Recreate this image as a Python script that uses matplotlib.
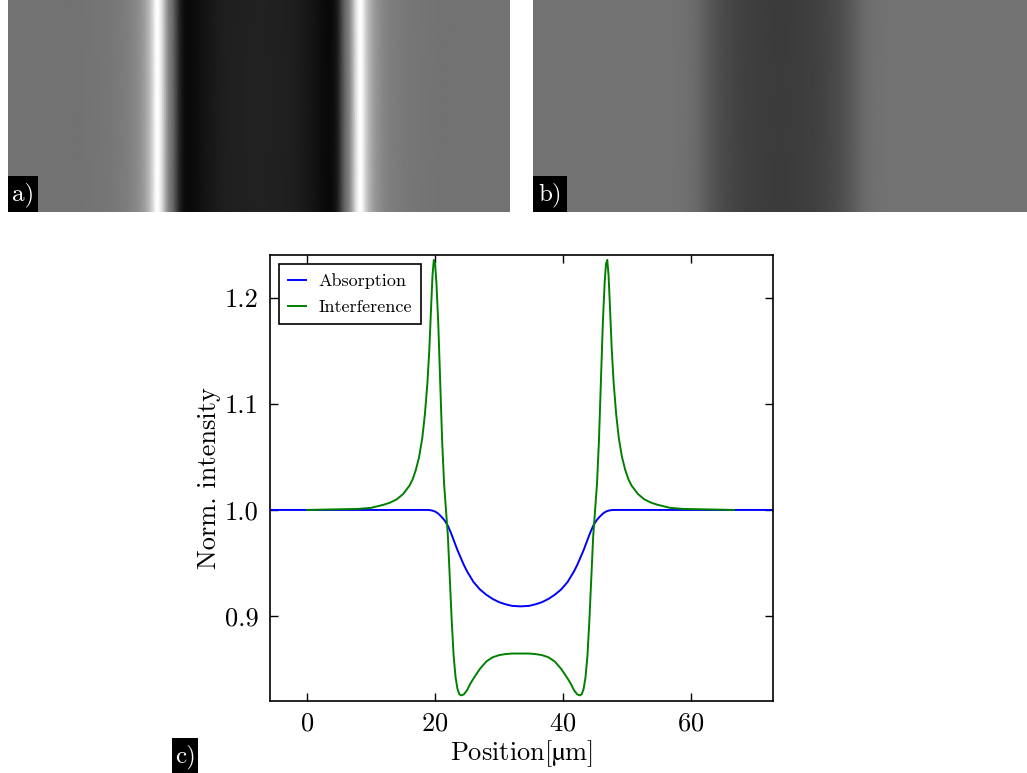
import numpy as np
import matplotlib
matplotlib.use("Agg")
import matplotlib.pyplot as plt
from matplotlib.colors import Normalize
from matplotlib.patches import Rectangle

plt.rcParams['font.family'] = ['cmr10', 'DejaVu Serif']
plt.rcParams['mathtext.fontset'] = 'cm'
plt.rcParams['axes.formatter.use_mathtext'] = True

# Interference (phase contrast) profile across the fibre
interference_x = [0, 4, 8, 10, 12, 13, 14, 15, 16, 16.5, 17, 17.5, 18, 18.4, 18.8,
                  19.1, 19.4, 19.6, 19.8, 20.0, 20.2, 20.5, 20.8, 21.1, 21.4, 21.7,
                  22.0, 22.3, 22.6, 22.9, 23.2, 23.5, 23.8, 24.1, 24.5, 25.0, 25.5,
                  26, 27, 28, 29, 30, 31, 32, 33.35,
                  34.7, 35.7, 36.7, 37.7, 38.7, 39.7, 40.7, 41.2, 41.7, 42.2, 42.6,
                  42.9, 43.2, 43.5, 43.8, 44.1, 44.4, 44.7, 45.0, 45.3, 45.6, 45.9,
                  46.2, 46.5, 46.7, 46.9, 47.1, 47.3, 47.6, 47.9, 48.3, 48.7, 49.2,
                  49.7, 50.2, 50.7, 51.7, 52.7, 53.7, 54.7, 56.7, 58.7, 62.7, 66.7]
interference_y = [1.000, 1.0005, 1.001, 1.002, 1.005, 1.007, 1.010, 1.015, 1.023, 1.029,
                  1.038, 1.050, 1.068, 1.090, 1.120, 1.152, 1.195, 1.222, 1.236, 1.232,
                  1.215, 1.175, 1.120, 1.065, 1.025, 1.000, 0.975, 0.935, 0.895, 0.862,
                  0.842, 0.831, 0.826, 0.825, 0.826, 0.830, 0.836, 0.841, 0.850, 0.857,
                  0.861, 0.863, 0.864, 0.8645, 0.8645,
                  0.8645, 0.864, 0.863, 0.861, 0.857, 0.850, 0.841, 0.836, 0.830, 0.826,
                  0.825, 0.826, 0.831, 0.842, 0.862, 0.895, 0.935, 0.975, 1.000, 1.025,
                  1.065, 1.120, 1.175, 1.215, 1.232, 1.236, 1.222, 1.195, 1.152, 1.120,
                  1.090, 1.068, 1.050, 1.038, 1.029, 1.023, 1.015, 1.010, 1.007, 1.005,
                  1.002, 1.001, 1.0005, 1.000]

# Absorption profile across the fibre
absorption_x = [-5.8, 0, 10, 17, 18, 19, 19.5, 20, 20.5, 21, 21.5, 22, 22.5, 23, 23.5,
                24, 24.5, 25, 26, 27, 28, 29, 30, 31, 32, 33.35,
                34.7, 35.7, 36.7, 37.7, 38.7, 39.7, 40.7, 41.7, 42.2, 42.7, 43.2, 43.7,
                44.2, 44.7, 45.2, 45.7, 46.2, 46.7, 47.2, 47.7, 48.7, 49.7, 56.7, 66.7, 72.8]
absorption_y = [1.0, 1.0, 1.0, 1.0, 1.0, 1.0, 0.9995, 0.9985, 0.9965, 0.9935, 0.990,
                0.985, 0.978, 0.970, 0.962, 0.955, 0.948, 0.942, 0.932, 0.925, 0.920,
                0.916, 0.913, 0.911, 0.9095, 0.909,
                0.9095, 0.911, 0.913, 0.916, 0.920, 0.925, 0.932, 0.942, 0.948, 0.955,
                0.962, 0.970, 0.978, 0.985, 0.990, 0.9935, 0.9965, 0.9985, 0.9995, 1.0,
                1.0, 1.0, 1.0, 1.0, 1.0]

x_ticks = [0, 20, 40, 60]
y_ticks = [0.9, 1.0, 1.1, 1.2]

W, H = 1027, 773
fig = plt.figure(figsize=(W / 100, H / 100), dpi=100)

gray_norm = Normalize(vmin=0.809, vmax=1.237)


def panel_tag(x0, y0, w, h, label):
    """Black box with a white panel letter; coordinates in pixels from top-left."""
    fig.add_artist(Rectangle((x0 / W, 1 - (y0 + h) / H), w / W, h / H,
                             transform=fig.transFigure, facecolor='black',
                             edgecolor='none', zorder=5))
    fig.text((x0 + w / 2) / W, 1 - (y0 + h / 2 + 1) / H, label, color='white',
             fontsize=18, ha='center', va='center', zorder=6)


def stripe_image(ax, xs, ys):
    xs = np.asarray(xs, float)
    ys = np.asarray(ys, float)
    keep = (xs >= interference_x[0]) & (xs <= interference_x[-1])
    xs, ys = xs[keep], ys[keep]
    X = np.vstack([xs, xs])
    Y = np.vstack([np.zeros_like(xs), np.ones_like(xs)])
    C = np.vstack([ys, ys])
    ax.pcolormesh(X, Y, C, shading='gouraud', cmap='gray', norm=gray_norm)
    ax.set_xlim(interference_x[0], interference_x[-1])
    ax.set_ylim(0, 1)
    ax.set_axis_off()


ax_a = fig.add_axes([8 / W, 1 - 212 / H, 502 / W, 212 / H])
stripe_image(ax_a, interference_x, interference_y)

ax_b = fig.add_axes([533 / W, 1 - 212 / H, 494 / W, 212 / H])
stripe_image(ax_b, absorption_x, absorption_y)

# Line profiles
ax = fig.add_axes([270 / W, (H - 700.7) / H, 503 / W, 445.7 / H])
ax.plot(absorption_x, absorption_y, color='blue', lw=1.4, label='Absorption')
ax.plot(interference_x, interference_y, color='green', lw=1.4, label='Interference')
ax.set_xlim(absorption_x[0], absorption_x[-1])
ax.set_ylim(0.820, 1.2406)
ax.set_xticks(x_ticks)
ax.set_yticks(y_ticks)
ax.set_yticklabels([f'{v:.1f}' for v in y_ticks])
ax.tick_params(direction='in', top=True, right=True, length=6, width=1.0,
               labelsize=19, pad=8)
for sp in ax.spines.values():
    sp.set_linewidth(1.2)
ax.set_xlabel('Position[$\\mathrm{µ}$m]', fontsize=19, labelpad=2,
              math_fontfamily='stix')
ax.set_ylabel('Norm. intensity', fontsize=19, labelpad=3)
leg = ax.legend(loc='upper left', fontsize=13, handlelength=1.0, fancybox=False,
                edgecolor='black', framealpha=1, borderpad=0.5, labelspacing=0.6,
                handletextpad=0.7, borderaxespad=0.5)
leg.get_frame().set_linewidth(1.2)

panel_tag(8, 176, 30, 36, 'a)')
panel_tag(533, 176, 34, 36, 'b)')
panel_tag(172, 738, 26, 35, 'c)')

fig.savefig('out.png', dpi=100)
